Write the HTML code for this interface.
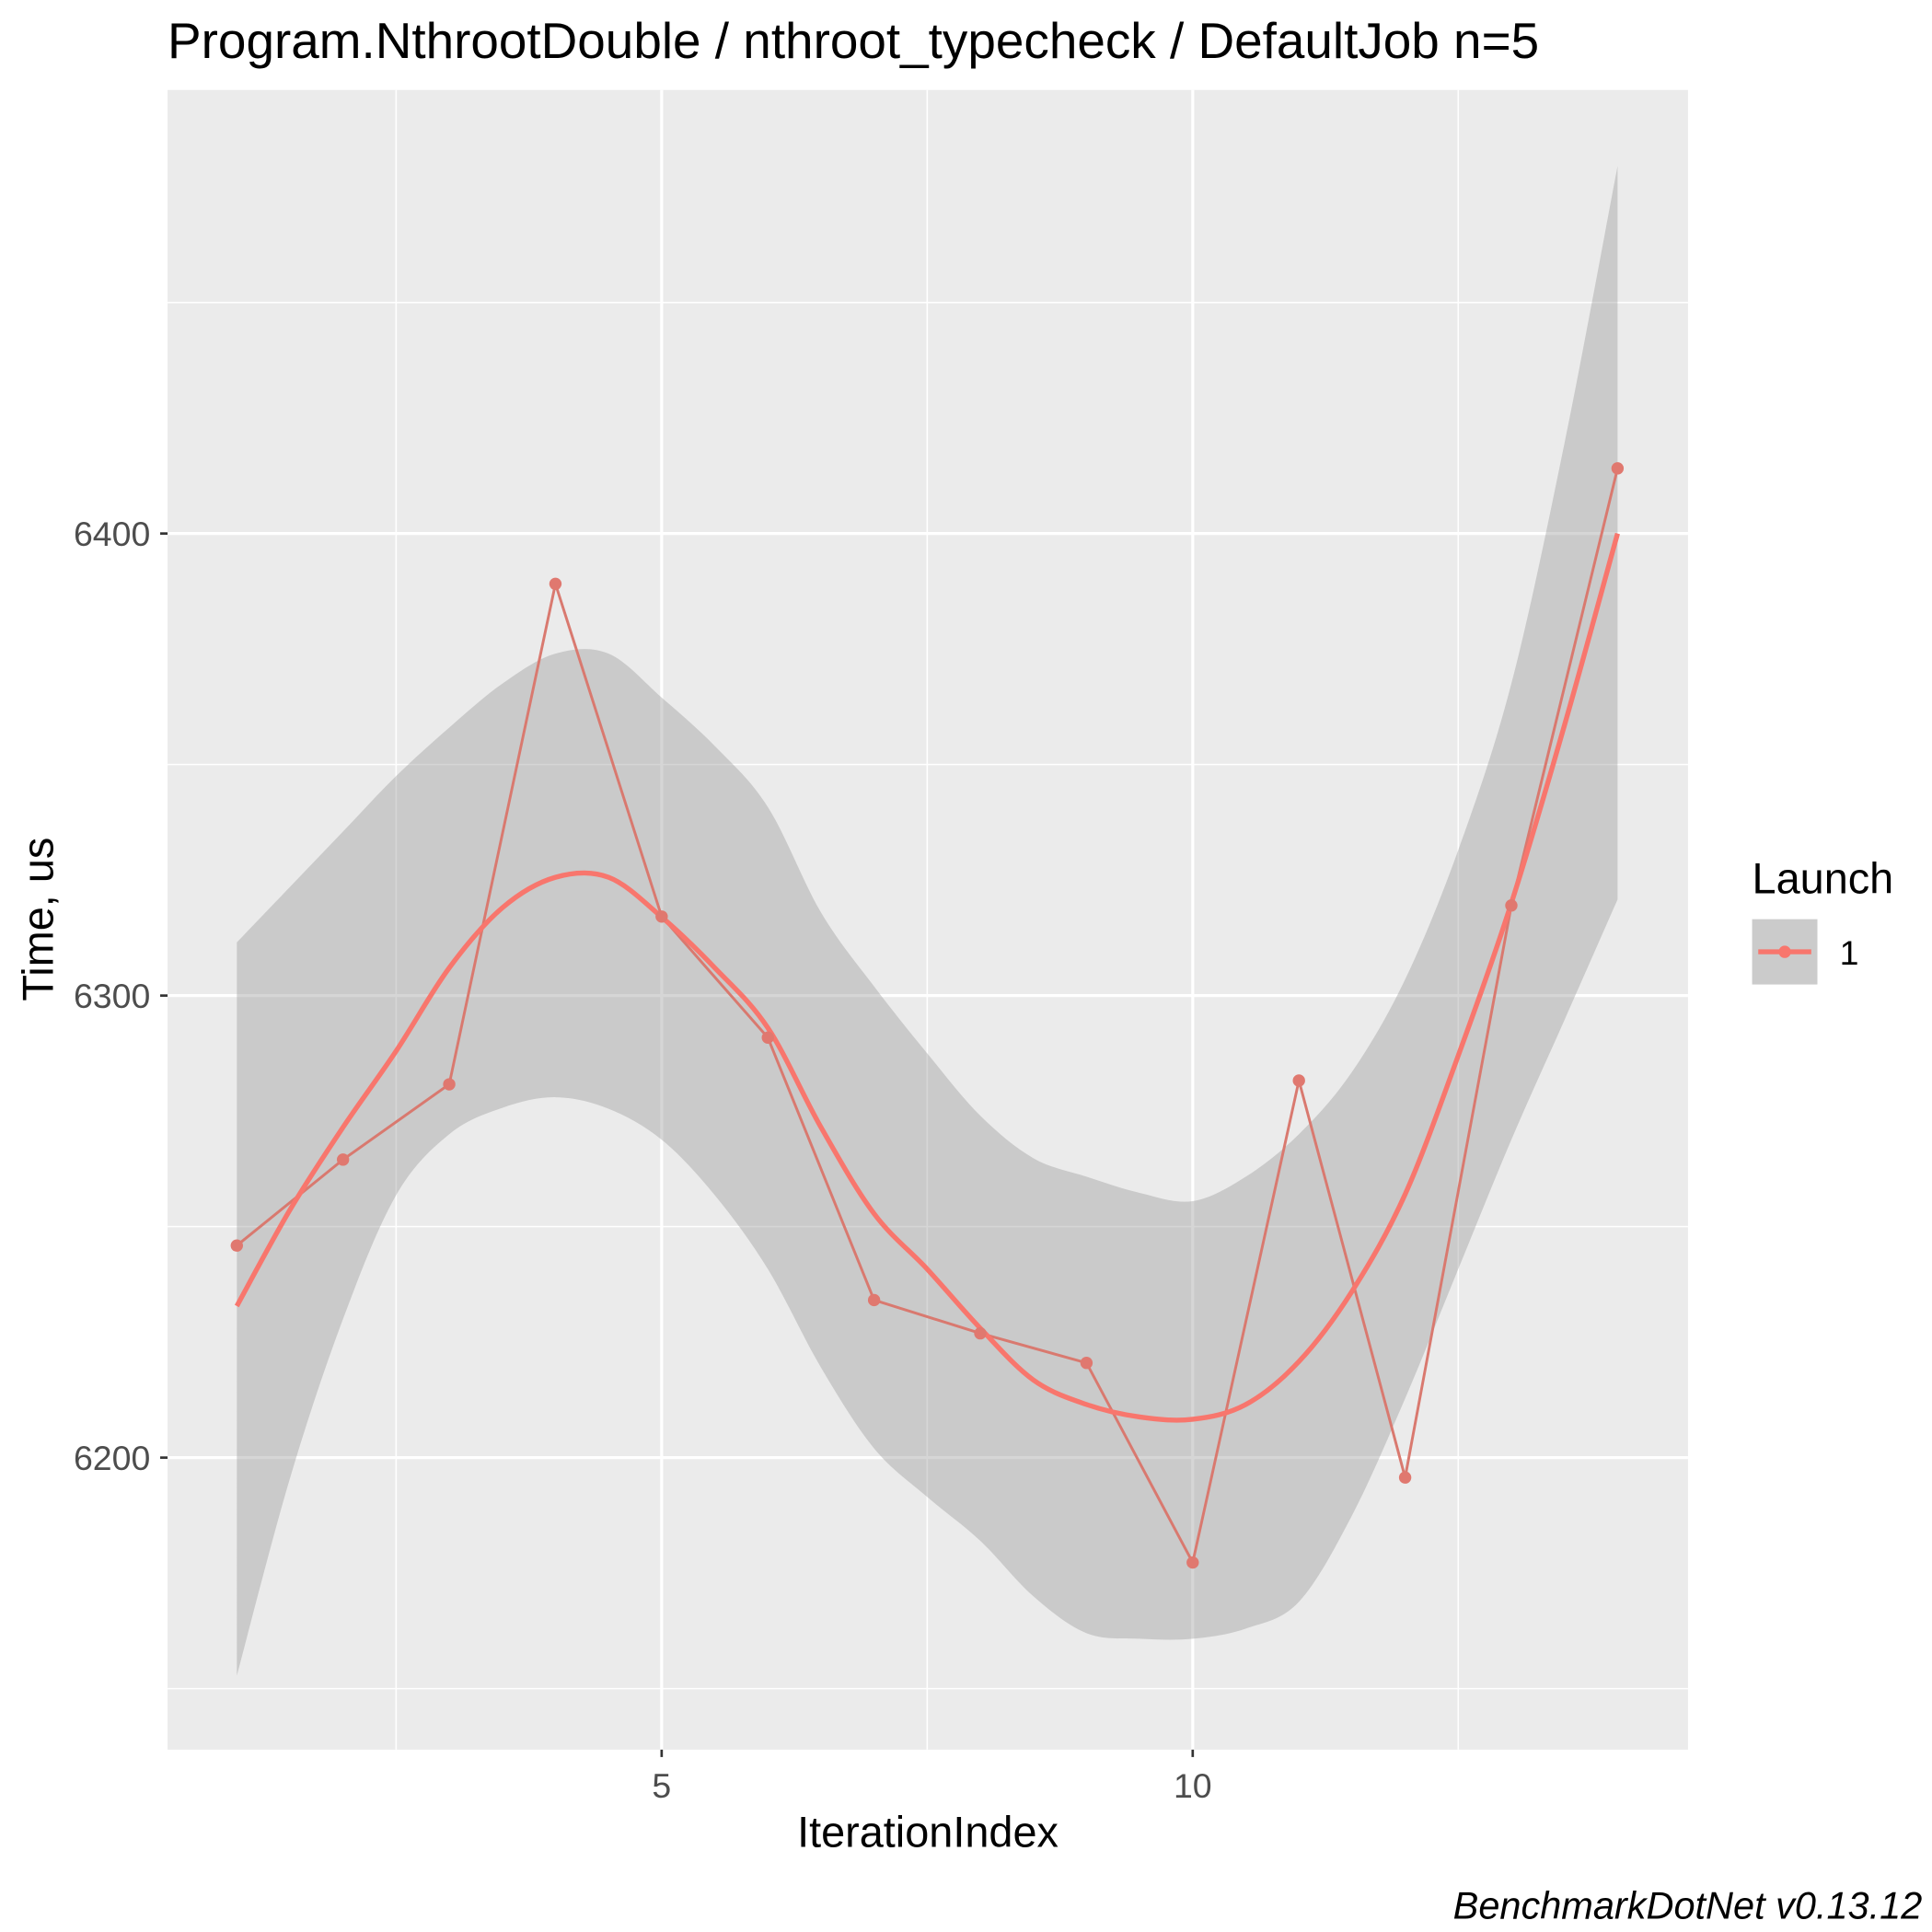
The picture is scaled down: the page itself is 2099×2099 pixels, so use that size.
<!DOCTYPE html>
<html><head><meta charset="utf-8"><style>html,body{margin:0;padding:0;background:#fff}svg{display:block}text{font-family:"Liberation Sans",sans-serif}</style></head>
<body>
<svg id="chart" width="2099" height="2099" viewBox="0 0 1568 1568" xmlns="http://www.w3.org/2000/svg">
<rect width="1568" height="1568" fill="#fff"/>
<text x="136" y="47" font-size="41" fill="#000">Program.NthrootDouble / nthroot_typecheck / DefaultJob n=5</text>
<rect x="136" y="73" width="1234" height="1347" fill="#EBEBEB"/>
<g id="grid"></g>
<g id="band"></g>
<g id="series"></g>
<g id="axes"></g>
<text x="753" y="1499" font-size="35" text-anchor="middle" fill="#000">IterationIndex</text>
<text transform="translate(43,746) rotate(-90)" font-size="35" text-anchor="middle" fill="#000">Time, us</text>
<g>
<text x="1422" y="725" font-size="35" fill="#000">Launch</text>
<rect x="1422" y="746" width="53" height="53" fill="#CBCBCB"/>
<line x1="1427" y1="772.5" x2="1470" y2="772.5" stroke="#F8766D" stroke-width="4"/>
<circle cx="1448.5" cy="772.5" r="5" fill="#F8766D"/>
<text x="1493" y="783" font-size="28" fill="#000">1</text>
</g>
<text x="1560" y="1557" font-size="31" font-style="italic" text-anchor="end" fill="#000">BenchmarkDotNet v0.13.12</text>
</svg>
<script>
const iterations=[1,2,3,4,5,6,7,8,9,10,11,12,13,14];
const times=[6245.9,6264.5,6280.8,6389.1,6317.1,6290.9,6234.1,6226.9,6220.5,6177.3,6281.6,6195.7,6319.5,6414.1];
const smoothX=[1,1.5,2,2.5,3,3.5,4,4.5,5,5.5,6,6.5,7,7.5,8,8.5,9,9.5,10,10.5,11,11.5,12,12.5,13,13.5,14];
const smoothY=[6232.8,6253.6,6271.5,6288,6306,6319,6325.6,6325.6,6317,6306,6293,6271.5,6252.8,6240.8,6228,6216.8,6211.5,6208.8,6208.3,6211.5,6220.8,6236,6257,6287,6320,6358.5,6400];
const bandUpper=[6311.5,6323.5,6335.5,6347.5,6358,6367.5,6374,6374,6364.5,6354,6340.8,6318,6302,6287.5,6274,6264.8,6260.8,6257.3,6255.5,6260.8,6270,6283.5,6303.5,6331.5,6367.5,6419.5,6479.5];
const bandLower=[6152.8,6195.5,6230,6256.8,6270,6275.7,6278,6275.5,6268.8,6256.8,6240.8,6219.5,6202,6191.5,6182,6170,6162,6160.8,6160.8,6163,6168.8,6187.5,6212.8,6240.8,6268.8,6294.7,6320.8];
const xTicks=[5,10];
const xMinor=[2.5,7.5,12.5];
const yTicks=[6200,6300,6400];
const yMinor=[6150,6250,6350,6450];

const sx=v=>537+(v-5)*86.2;
const sy=v=>808-(v-6300)*3.75;
const NS="http://www.w3.org/2000/svg";
function mk(tag,attrs,parent){const e=document.createElementNS(NS,tag);for(const k in attrs)e.setAttribute(k,attrs[k]);parent.appendChild(e);return e;}
function crPath(p,move){let d=(move?'M':'L')+p[0][0]+','+p[0][1];
for(let i=0;i<p.length-1;i++){const p0=p[i-1]||p[i],p1=p[i],p2=p[i+1],p3=p[i+2]||p2;
d+=' C'+(p1[0]+(p2[0]-p0[0])/6)+','+(p1[1]+(p2[1]-p0[1])/6)+' '+(p2[0]-(p3[0]-p1[0])/6)+','+(p2[1]-(p3[1]-p1[1])/6)+' '+p2[0]+','+p2[1];}
return d;}
const grid=document.getElementById('grid'),band=document.getElementById('band'),series=document.getElementById('series'),axes=document.getElementById('axes');
yMinor.forEach(v=>{const l=mk('line',{x1:136,x2:1370,y1:sy(v),y2:sy(v),stroke:'#fff','stroke-width':1.2},grid);

});
xMinor.forEach(v=>{const l=mk('line',{x1:sx(v),x2:sx(v),y1:73,y2:1420,stroke:'#fff','stroke-width':1.2},grid);

});
yTicks.forEach(v=>{const l=mk('line',{x1:136,x2:1370,y1:sy(v),y2:sy(v),stroke:'#fff','stroke-width':2.4},grid);


const t=mk('line',{x1:130,x2:136,y1:sy(v),y2:sy(v),stroke:'#333','stroke-width':2},axes);


const tx=mk('text',{x:122,y:sy(v)+10,'font-size':28,'text-anchor':'end',fill:'#4D4D4D'},axes);tx.textContent=v;

});
xTicks.forEach(v=>{const l=mk('line',{x1:sx(v),x2:sx(v),y1:73,y2:1420,stroke:'#fff','stroke-width':2.4},grid);


const t=mk('line',{x1:sx(v),x2:sx(v),y1:1420,y2:1426,stroke:'#333','stroke-width':2},axes);


const tx=mk('text',{x:sx(v),y:1459,'font-size':28,'text-anchor':'middle',fill:'#4D4D4D'},axes);tx.textContent=v;

});
const up=smoothX.map((x,i)=>[sx(x),sy(bandUpper[i])]);
const lo=smoothX.map((x,i)=>[sx(x),sy(bandLower[i])]).reverse();
const bp=mk('path',{d:crPath(up,true)+' '+crPath(lo,false)+' Z',fill:'#999999','fill-opacity':0.4},band);


const ln=mk('polyline',{points:iterations.map((x,i)=>sx(x)+','+sy(times[i])).join(' '),fill:'none',stroke:'#D9796F','stroke-width':2.2},series);


const sm=mk('path',{d:crPath(smoothX.map((x,i)=>[sx(x),sy(smoothY[i])]),true),fill:'none',stroke:'#F8766D','stroke-width':4,'stroke-linejoin':'round'},series);


iterations.forEach((x,i)=>{const c=mk('circle',{cx:sx(x),cy:sy(times[i]),r:5,fill:'#E0786F'},series);

});
</script>
</body></html>
